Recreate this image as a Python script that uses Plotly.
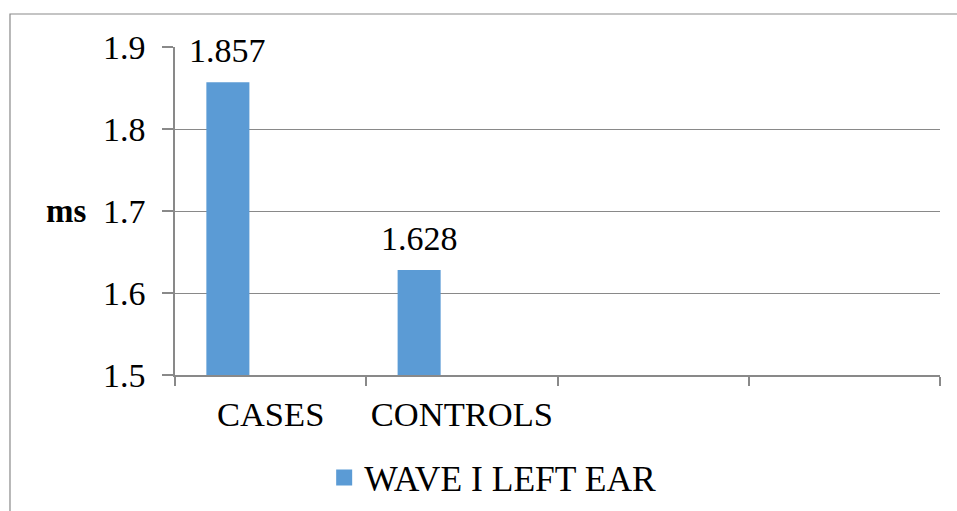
import plotly.graph_objects as go

# Mean wave I latency (ms), left ear
groups = ["CASES", "CONTROLS"]
latency_ms = [1.857, 1.628]
series_name = "WAVE I LEFT EAR"
y_ticks = [1.5, 1.6, 1.7, 1.8, 1.9]

n_slots = 4
bar_color = "#5B9BD5"
grid_color = "#898989"
font_family = "'Times New Roman', 'Liberation Serif', serif"
fs = 34

x_pos = list(range(len(groups)))
bar_width = 0.225
bar_offset = -0.336

fig = go.Figure()
fig.add_trace(go.Bar(
    x=x_pos, y=latency_ms, width=bar_width, offset=bar_offset,
    marker=dict(color=bar_color, line=dict(width=0)),
    base=0, showlegend=False, name=series_name,
))
# legend entry with a larger square swatch
fig.add_trace(go.Scatter(
    x=[None], y=[None], mode="markers", name=series_name,
    marker=dict(symbol="square", size=18, color=bar_color),
))

for xi, v in zip(x_pos, latency_ms):
    fig.add_annotation(
        x=xi + bar_offset + bar_width / 2, y=v, text=f"{v:.3f}",
        showarrow=False, yanchor="bottom", yshift=11,
        font=dict(family=font_family, size=fs, color="black"),
    )

fig.add_annotation(
    xref="paper", yref="paper", x=-0.1137, y=0.5, xanchor="right", yanchor="middle",
    text="<b>ms</b>", showarrow=False,
    font=dict(family=font_family, size=33, color="black"),
)

# outer chart border
fig.add_shape(
    type="rect", xref="paper", yref="paper",
    x0=-0.2157, x1=1.2, y0=-0.6, y1=1.1006,
    line=dict(color=grid_color, width=1.2), layer="below",
)

fig.update_layout(
    width=957, height=511,
    margin=dict(l=175, r=17, t=47, b=136, autoexpand=False),
    plot_bgcolor="white", paper_bgcolor="white",
    font=dict(family=font_family, size=fs, color="black"),
    showlegend=True,
    legend=dict(
        orientation="h", x=0.195, xanchor="left", y=-0.314, yanchor="middle",
        font=dict(family=font_family, size=35.5, color="black"),
        bgcolor="rgba(0,0,0,0)",
    ),
    xaxis=dict(
        range=[-0.5, n_slots - 0.5],
        tickmode="array", tickvals=x_pos, ticktext=groups,
        ticks="", ticklabelstandoff=8,
        tickfont=dict(family=font_family, size=34.5, color="black"),
        showgrid=False, zeroline=False,
        showline=True, linecolor=grid_color, linewidth=1.5,
        minor=dict(
            tickmode="array",
            tickvals=[i - 0.5 for i in range(n_slots + 1)],
            ticks="outside", ticklen=9, tickcolor=grid_color, tickwidth=1.5,
            showgrid=False,
        ),
    ),
    yaxis=dict(
        range=[1.5, 1.9], tickmode="array", tickvals=y_ticks,
        ticktext=[f"{t:.1f}" for t in y_ticks],
        ticks="outside", ticklen=11, tickcolor=grid_color, tickwidth=1.5,
        ticklabelstandoff=10,
        showgrid=True, gridcolor=grid_color, gridwidth=1.3,
        zeroline=False, showline=True, linecolor=grid_color, linewidth=1.5,
    ),
)

fig.write_html("out.html")
